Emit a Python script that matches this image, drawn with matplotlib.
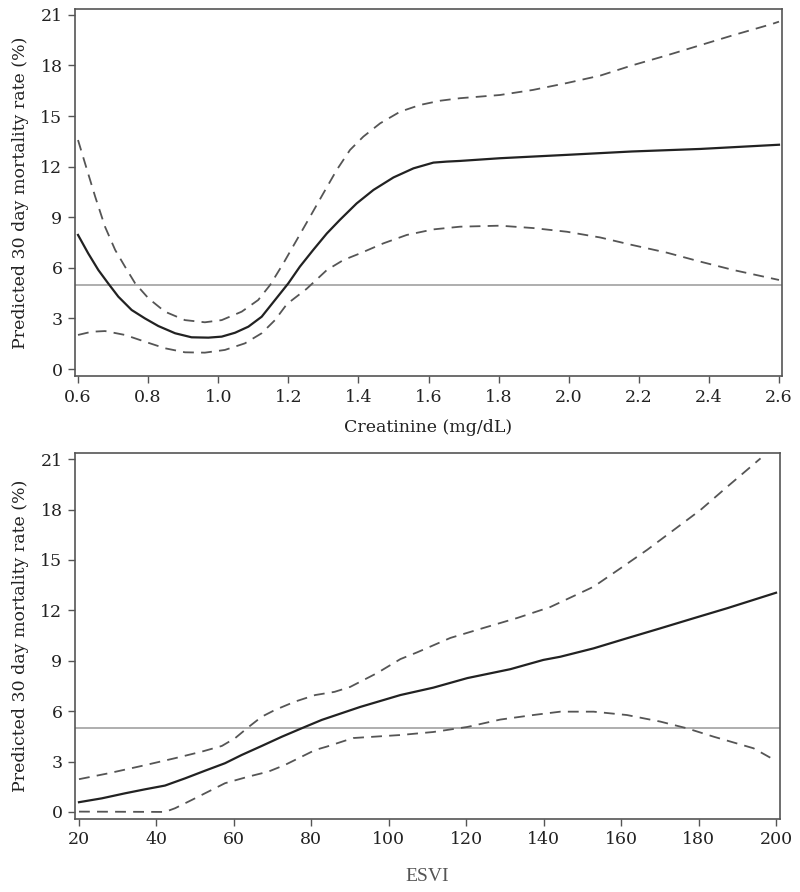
import numpy as np
import matplotlib
matplotlib.use("Agg")
import matplotlib.pyplot as plt

# ---- Creatinine panel ----
creat_x_fit = [0.6, 0.629, 0.658, 0.686, 0.715, 0.753, 0.791, 0.829, 0.877, 0.924, 0.972, 1.01,
               1.048, 1.086, 1.124, 1.162, 1.2, 1.233, 1.271, 1.31, 1.347, 1.395, 1.443, 1.5,
               1.557, 1.614, 1.652, 1.69, 1.804, 1.995, 2.18, 2.375, 2.6]
creat_fit = [7.95, 6.86, 5.87, 5.08, 4.29, 3.5, 3.0, 2.55, 2.12, 1.88, 1.86, 1.92,
             2.15, 2.51, 3.1, 4.09, 5.08, 6.07, 7.06, 8.04, 8.84, 9.82, 10.62, 11.36,
             11.9, 12.24, 12.3, 12.34, 12.5, 12.7, 12.9, 13.05, 13.3]

creat_x_up = [0.6, 0.62, 0.649, 0.677, 0.706, 0.734, 0.763, 0.801, 0.848, 0.905, 0.962, 1.01,
              1.067, 1.114, 1.148, 1.186, 1.224, 1.262, 1.3, 1.338, 1.376, 1.414, 1.462, 1.519,
              1.576, 1.633, 1.69, 1.804, 1.898, 1.995, 2.09, 2.18, 2.28, 2.375, 2.47, 2.58, 2.6]
creat_up = [13.58, 12.2, 10.22, 8.44, 7.06, 6.07, 5.08, 4.19, 3.4, 2.9, 2.77, 2.9,
            3.4, 4.09, 4.98, 6.27, 7.65, 9.03, 10.42, 11.8, 12.99, 13.78, 14.57, 15.26,
            15.66, 15.91, 16.06, 16.25, 16.55, 16.96, 17.4, 18.0, 18.6, 19.2, 19.8, 20.46, 20.6]

creat_x_lo = [0.6, 0.639, 0.677, 0.734, 0.791, 0.848, 0.905, 0.962, 1.019, 1.076, 1.124, 1.162,
              1.196, 1.252, 1.31, 1.357, 1.405, 1.471, 1.538, 1.614, 1.69, 1.804, 1.898, 1.995,
              2.09, 2.18, 2.28, 2.375, 2.47, 2.6]
creat_lo = [2.02, 2.21, 2.25, 2.02, 1.62, 1.23, 0.99, 0.97, 1.13, 1.52, 2.12, 2.9,
            3.85, 4.75, 5.87, 6.46, 6.86, 7.45, 7.95, 8.28, 8.44, 8.5, 8.36, 8.14,
            7.8, 7.36, 6.9, 6.37, 5.87, 5.28]

# ---- ESVI panel ----
esvi_x_fit = [20, 25.9, 31.9, 37.1, 42.2, 47.4, 52.6, 57.7, 62, 67.2, 72.4, 77.5, 82.7,
              92.6, 103, 111.5, 120.3, 131.4, 139.9, 144.3, 152.9, 161.5, 170.1, 178.7,
              187.4, 200]
esvi_fit = [0.58, 0.81, 1.11, 1.35, 1.57, 2.0, 2.46, 2.9, 3.39, 3.93, 4.48, 4.98, 5.48,
            6.25, 6.96, 7.4, 7.97, 8.5, 9.05, 9.24, 9.74, 10.34, 10.93, 11.53,
            12.13, 13.05]

esvi_x_up = [20, 27.6, 36.2, 44.8, 51.7, 56.9, 60.3, 63.7, 67.2, 70.6, 75.8, 81, 86,
             90, 97, 103, 107.3, 115.9, 124.4, 133.2, 141.7, 152.9, 159.8, 166.7, 173.6,
             180.5, 187.4, 192.5, 196]
esvi_up = [1.95, 2.3, 2.74, 3.2, 3.59, 3.93, 4.39, 5.04, 5.67, 6.07, 6.57, 6.96, 7.15,
           7.44, 8.27, 9.1, 9.5, 10.36, 10.95, 11.55, 12.2, 13.41, 14.5, 15.6, 16.79,
           17.98, 19.36, 20.36, 21.05]

esvi_x_lo = [20, 42.2, 44.8, 49.1, 53.4, 57.7, 63.7, 68.9, 73.2, 77.5, 81, 84, 90.8,
             103, 111.5, 120.3, 128.8, 137.3, 144.3, 152.9, 161.5, 170.1, 177, 183.9,
             194.2, 200]
esvi_lo = [0.02, 0.0, 0.22, 0.71, 1.21, 1.71, 2.1, 2.4, 2.8, 3.29, 3.69, 3.89, 4.4,
           4.58, 4.76, 5.06, 5.5, 5.77, 5.97, 5.97, 5.77, 5.38, 4.98, 4.48,
           3.79, 3.04]

REF_LEVEL = 5
Y_TICKS = [0, 3, 6, 9, 12, 15, 18, 21]
CREAT_TICKS = [0.6, 0.8, 1.0, 1.2, 1.4, 1.6, 1.8, 2.0, 2.2, 2.4, 2.6]
ESVI_TICKS = [20, 40, 60, 80, 100, 120, 140, 160, 180, 200]

plt.rcParams['font.family'] = ['DejaVu Serif']
plt.rcParams['font.size'] = 12

W, H = 800, 892
fig = plt.figure(figsize=(W / 100, H / 100), dpi=100)


def box(l, t, r, b):
    return [l / W, (H - b) / H, (r - l) / W, (b - t) / H]


def style_panel(ax, xticks, fmt):
    for s in ax.spines.values():
        s.set_color('#555555')
        s.set_linewidth(1.2)
    ax.set_xticks(xticks)
    ax.set_xticklabels([fmt(v) for v in xticks])
    ax.set_yticks(Y_TICKS)
    ax.tick_params(direction='out', length=5, width=1, color='#555555', labelcolor='#222222',
                   labelsize=12.5, pad=4)
    ax.set_ylabel('Predicted 30 day mortality rate (%)', fontsize=12.5, color='#222222', labelpad=8)


def draw(ax, xf, yf, xu, yu, xl, yl):
    ax.axhline(REF_LEVEL, color='#999999', lw=1.1, zorder=1)
    ax.plot(xu, yu, color='#555555', lw=1.3, ls=(0, (6, 4)))
    ax.plot(xl, yl, color='#555555', lw=1.3, ls=(0, (6, 4)))
    ax.plot(xf, yf, color='#222222', lw=1.6)


ax1 = fig.add_axes(box(75, 9, 782, 376))
draw(ax1, creat_x_fit, creat_fit, creat_x_up, creat_up, creat_x_lo, creat_lo)
ax1.set_xlim(0.5914, 2.6086)
ax1.set_ylim(-0.415, 21.35)
style_panel(ax1, CREAT_TICKS, lambda v: f'{v:.1f}')
ax1.set_xlabel('Creatinine (mg/dL)', fontsize=12.5, color='#222222', labelpad=10)

ax2 = fig.add_axes(box(75, 453, 780, 819))
draw(ax2, esvi_x_fit, esvi_fit, esvi_x_up, esvi_up, esvi_x_lo, esvi_lo)
ax2.set_xlim(18.97, 201.03)
ax2.set_ylim(-0.42, 21.37)
style_panel(ax2, ESVI_TICKS, lambda v: f'{v:d}')
ax2.set_xlabel('ESVI', fontsize=14, color='#555555', labelpad=14, family='Liberation Serif')

fig.savefig('out.png', dpi=100)
